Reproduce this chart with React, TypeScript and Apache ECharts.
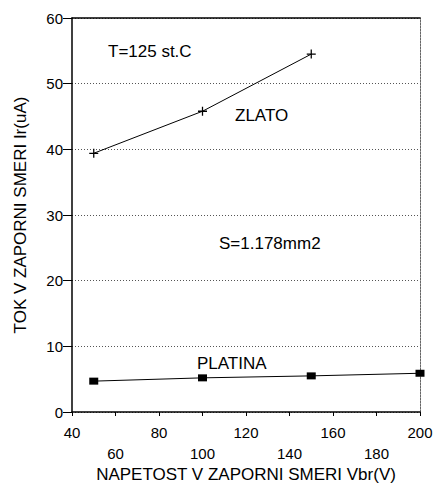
import React, { useEffect, useRef } from "react";
import * as echarts from "echarts";

const xTicks = [40, 60, 80, 100, 120, 140, 160, 180, 200];
const zlatoX = [50, 100, 150];
const zlatoY = [39.4, 45.8, 54.5];
const platinaX = [50, 100, 150, 200];
const platinaY = [4.7, 5.2, 5.5, 5.9];

const FONT = "'Liberation Sans', Arial, sans-serif";

export default function App() {
  const ref = useRef<HTMLDivElement>(null);
  useEffect(() => {
    if (!ref.current) return;
    const chart = echarts.init(ref.current, null, { renderer: "svg" });
    const plus = "path://M4,0h1.4v4.3h4.3v1.4h-4.3v4.3h-1.4v-4.3h-4.3v-1.4h4.3z";
    const txt = (text: string, x: number, y: number) => ({
      type: "text",
      x,
      y,
      style: { text, fill: "#000", fontSize: 17, fontFamily: FONT, align: "left", verticalAlign: "middle" },
    });
    chart.setOption({
      animation: false,
      backgroundColor: "#fff",
      textStyle: { fontFamily: FONT },
      grid: { left: 72, right: 13, top: 18, bottom: 74, containLabel: false, outerBoundsMode: "none" },
      xAxis: [
        {
          type: "value",
          min: 40,
          max: 200,
          interval: 20,
          name: "NAPETOST V ZAPORNI SMERI Vbr(V)",
          nameLocation: "middle",
          nameGap: 53,
          nameMoveOverlap: false,
          nameTextStyle: { color: "#000", fontSize: 17, fontFamily: FONT, lineHeight: 18 },
          axisLine: { show: true, onZero: false, lineStyle: { color: "#000", width: 1.5 } },
          axisTick: { show: true, inside: false, length: 4, lineStyle: { color: "#000" } },
          splitLine: { show: false },
          axisLabel: {
            color: "#000",
            fontSize: 15,
            fontFamily: FONT,
            margin: 10,
            lineHeight: 21,
            formatter: (v: number) => {
              const i = xTicks.indexOf(v);
              return i % 2 === 1 ? "\n" + v : String(v);
            },
          },
        },
        {
          type: "value",
          position: "top",
          min: 40,
          max: 200,
          axisLine: { show: true, onZero: false, lineStyle: { color: "#000", width: 1.5 } },
          axisTick: { show: false },
          axisLabel: { show: false },
          splitLine: { show: false },
        },
      ],
      yAxis: [
        {
          type: "value",
          min: 0,
          max: 60,
          interval: 10,
          name: "TOK V ZAPORNI SMERI Ir(uA)",
          nameLocation: "middle",
          nameGap: 43,
          nameTextStyle: { color: "#000", fontSize: 17, fontFamily: FONT },
          axisLine: { show: true, onZero: false, lineStyle: { color: "#000", width: 1.5 } },
          axisTick: { show: true, length: 9, lineStyle: { color: "#000" } },
          axisLabel: { color: "#000", fontSize: 15, fontFamily: FONT, margin: 9 },
          splitLine: { show: true, lineStyle: { color: "#555", type: [1, 2], width: 1 } },
        },
        {
          type: "value",
          position: "right",
          min: 0,
          max: 60,
          axisLine: { show: true, onZero: false, lineStyle: { color: "#666", width: 1, type: [2, 1] } },
          axisTick: { show: false },
          axisLabel: { show: false },
          splitLine: { show: false },
        },
      ],
      series: [
        {
          type: "line",
          name: "ZLATO",
          data: zlatoX.map((x, i) => [x, zlatoY[i]]),
          symbol: plus,
          symbolSize: 9,
          itemStyle: { color: "#000" },
          lineStyle: { color: "#000", width: 1 },
        },
        {
          type: "line",
          name: "PLATINA",
          data: platinaX.map((x, i) => [x, platinaY[i]]),
          symbol: "rect",
          symbolSize: [9, 7],
          itemStyle: { color: "#000" },
          lineStyle: { color: "#000", width: 1 },
        },
      ],
      graphic: [
        txt("T=125 st.C", 108, 51),
        txt("ZLATO", 235, 115),
        txt("S=1.178mm2", 219, 243),
        txt("PLATINA", 197, 363),
      ],
    });
    return () => chart.dispose();
  }, []);
  return <div ref={ref} style={{ position: "fixed", left: 0, top: 0, width: 433, height: 486 }} />;
}
